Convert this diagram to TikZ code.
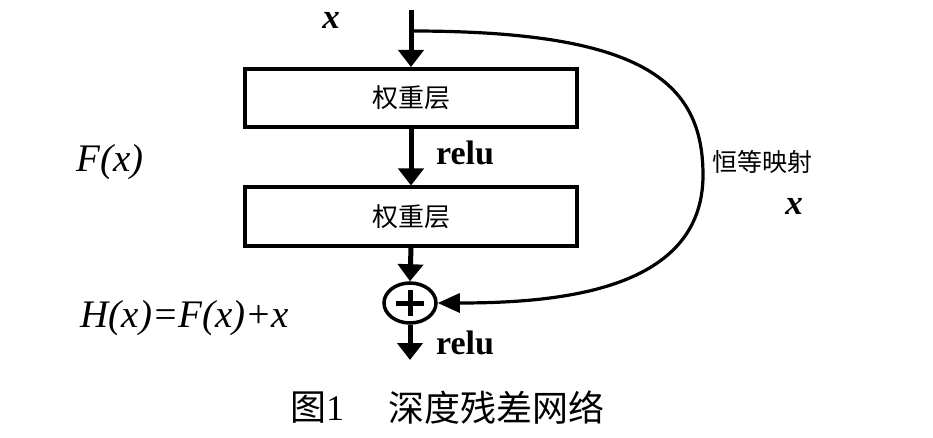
\documentclass[tikz,border=0pt]{standalone}
\usepackage{fontspec}
\setmainfont{Liberation Serif}
\newfontfamily\cjk{Noto Sans CJK SC}
\usetikzlibrary{arrows.meta,shapes.geometric}
\tikzset{
  layerbox/.style={draw, line width=4pt, minimum width=332pt, minimum height=58pt, inner sep=0pt,
    font=\cjk\fontsize{26}{30}\selectfont},
  flow/.style={line width=5pt, -{Triangle[width=25pt,length=17pt]}},
  skip/.style={line width=3.2pt, -{Triangle[width=19pt,length=22pt]}},
  addnode/.style={draw, ellipse, line width=3.5pt, minimum width=52pt, minimum height=40pt, inner sep=0pt},
  lbl/.style={inner sep=0pt},
  mathlbl/.style={inner sep=0pt, font=\fontsize{39}{44}\selectfont\itshape},
  varx/.style={inner sep=0pt, font=\fontsize{35}{40}\selectfont\bfseries\itshape},
}
\begin{document}
\begin{tikzpicture}[x=1pt,y=-1pt]
\useasboundingbox (0,0) rectangle (933,438);
\fill[white] (0,0) rectangle (933,438);

\coordinate (top) at (411,10);
\coordinate (split) at (411,31);
\node[layerbox] (b1) at (411,98) {权重层};
\node[layerbox] (b2) at (411,216.5) {权重层};
\node[addnode] (add) at (410,303) {};
\draw[line width=5pt] ([xshift=-14pt]add.center) -- ([xshift=14pt]add.center);
\draw[line width=5pt] ([yshift=-13pt]add.center) -- ([yshift=13pt]add.center);
\coordinate (out) at (410,360);
\coordinate (rt) at (703,175);

\draw[flow] (top) -- (b1.north);
\draw[flow] (b1.south) -- (b2.north);
\draw[flow] (b2.south) -- (add.north);
\draw[flow] (add.south) -- (out);
\draw[skip] (split) .. controls +(229,0) and +(0,-95) .. (rt) .. controls +(0,115) and +(123,0) .. (add.east);

\node[varx] (xtop) at (331,20) {x};
\node[lbl, font=\fontsize{34}{38}\selectfont\bfseries] (relu1) at (465,153) {relu};
\node[mathlbl] (fx) at (110,162) {F(x)};
\node[lbl, font=\cjk\fontsize{25}{29}\selectfont] (id) at (762,162) {恒等映射};
\node[varx] (xr) at (794,206) {x};
\node[mathlbl] (hx) at (185,318) {H(x)=F(x)+x};
\node[lbl, font=\fontsize{34}{38}\selectfont\bfseries] (relu2) at (465,343) {relu};
\node[lbl, font=\fontsize{36}{40}\selectfont] (cap1) at (317,408) {{\cjk 图}1};
\node[lbl, font=\cjk\fontsize{36}{40}\selectfont] (cap2) at (496,408) {深度残差网络};
\end{tikzpicture}
\end{document}
